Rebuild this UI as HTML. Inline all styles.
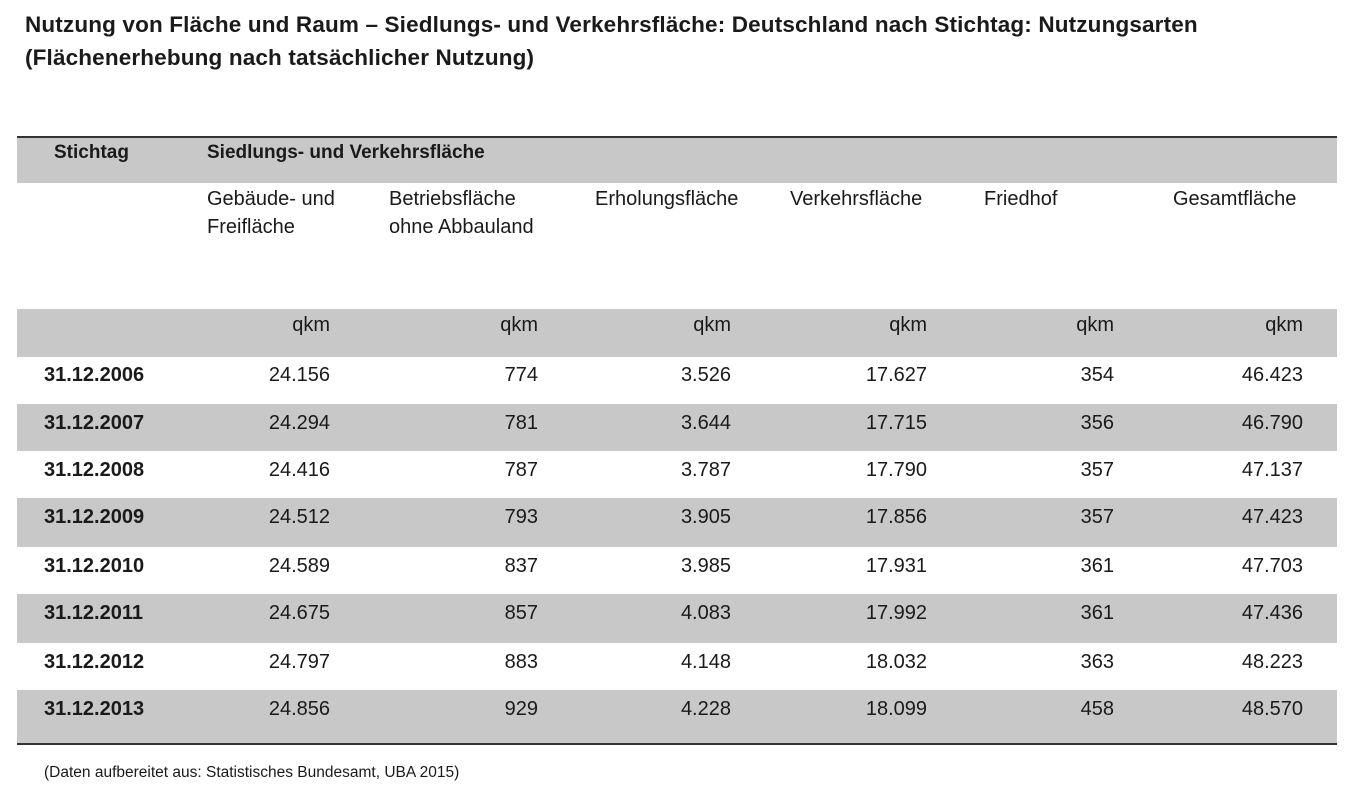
<!DOCTYPE html>
<html><head><meta charset="utf-8"><style>
body{margin:0;width:1366px;height:803px;background:#fff;position:relative;overflow:hidden;font-family:"Liberation Sans",sans-serif;color:#1a1a1a}
.a{position:absolute;white-space:nowrap}
.t{font-weight:bold;font-size:22.5px;left:25px;letter-spacing:0.15px}
.g{position:absolute;left:17px;width:1320px;background:#c8c8c8}
.c{font-size:19px}
.r{text-align:right}
.b{font-weight:bold}
</style></head><body>
<div class="a t" style="top:12px">Nutzung von Fläche und Raum – Siedlungs- und Verkehrsfläche: Deutschland nach Stichtag: Nutzungsarten</div>
<div class="a t" style="top:45px">(Flächenerhebung nach tatsächlicher Nutzung)</div>
<div id="tbl"></div>
<div class="a" style="left:44px;top:764px;font-size:15.5px">(Daten aufbereitet aus: Statistisches Bundesamt, UBA 2015)</div>
<script>
const dates=["31.12.2006","31.12.2007","31.12.2008","31.12.2009","31.12.2010","31.12.2011","31.12.2012","31.12.2013"];
const gebaeude=["24.156","24.294","24.416","24.512","24.589","24.675","24.797","24.856"];
const betrieb=["774","781","787","793","837","857","883","929"];
const erholung=["3.526","3.644","3.787","3.905","3.985","4.083","4.148","4.228"];
const verkehr=["17.627","17.715","17.790","17.856","17.931","17.992","18.032","18.099"];
const friedhof=["354","356","357","357","361","361","363","458"];
const gesamt=["46.423","46.790","47.137","47.423","47.703","47.436","48.223","48.570"];
const heads=[["Gebäude- und","Freifläche"],["Betriebsfläche","ohne Abbauland"],["Erholungsfläche"],["Verkehrsfläche"],["Friedhof"],["Gesamtfläche"]];
const cols=[gebaeude,betrieb,erholung,verkehr,friedhof,gesamt];
const rightX=[330,538,731,927,1114,1303];
const headX=[207,389,595,790,984,1173];
const T=document.getElementById('tbl');
function div(cls,style,txt){const d=document.createElement('div');d.className=cls;d.style.cssText=style;if(txt!=null)d.textContent=txt;T.appendChild(d);return d;}
let d;
d=div('a','left:17px;top:136px;width:1320px;height:2px;background:#333');


d=div('g','top:138px;height:45px');


d=div('g','top:309px;height:48px');


d=div('a c b','left:54px;top:142px;font-size:19px','Stichtag');


d=div('a c b','left:207px;top:142px;font-size:19px','Siedlungs- und Verkehrsfläche');


heads.forEach((h,j)=>{
  h.forEach((line,k)=>{
    const e=div('a c','left:'+headX[j]+'px;top:'+(188+k*28)+'px;font-size:20px',line);
    
    
  });
  const u=div('a c r','left:'+(rightX[j]-60)+'px;width:60px;top:314px;font-size:20px','qkm');
  
  
});
const rowTops=[356,404,451,498,547,594,643,690,743];
dates.forEach((dt,i)=>{
  const top=rowTops[i],h=rowTops[i+1]-top;
  if(i%2===1){const g=div('g','top:'+top+'px;height:'+h+'px');
    
    }
  const e=div('a c b','left:44px;top:'+(top+8)+'px;font-size:20px',dt);
  
  
  cols.forEach((c,j)=>{
    const v=div('a c r','left:'+(rightX[j]-100)+'px;width:100px;top:'+(top+8)+'px;font-size:20px',c[i]);
    
    
  });
});
d=div('a','left:17px;top:743px;width:1320px;height:2px;background:#333');


</script>
</body></html>
